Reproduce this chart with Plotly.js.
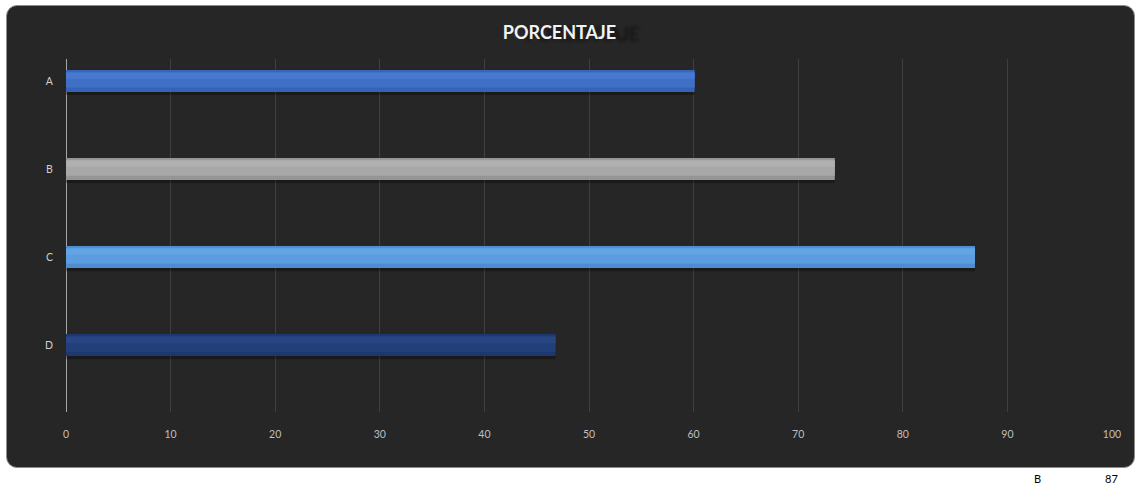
<!DOCTYPE html>
<html>
<head>
<meta charset="utf-8">
<script src="https://cdn.plot.ly/plotly-3.0.1.min.js"></script>
<style>
  html, body { margin: 0; padding: 0; background: #ffffff; }
  #frame { position: absolute; left: 6px; top: 5px; width: 1127px; height: 461px;
           background: #262626; border: 1px solid #8c8c8c; border-radius: 11px; }
  #chart { position: absolute; left: 0; top: 0; width: 1136px; height: 490px; }
</style>
</head>
<body>
<div id="frame"></div>
<div id="chart"></div>
<script>
const categories = ['A', 'B', 'C', 'D'];
const values = [60.1, 73.5, 86.9, 46.8];
const baseColors  = ['#3464b8', '#959595', '#4e8dd0', '#1d386c'];
const mainColors  = ['#4070c6', '#a8a8a8', '#5b9de0', '#223f7a'];
const lightColors = ['#4878d0', '#b0b0b0', '#63a4e5', '#284684'];
const xTicks = [0, 10, 20, 30, 40, 50, 60, 70, 80, 90, 100];
const titleText = 'PORCENTAJE';
const stray = ['B', '87'];

const font = 'Lato, "Open Sans", sans-serif';

function barLayer(colors, offset, width) {
  return {
    type: 'bar', orientation: 'h',
    x: values, y: categories,
    offset: offset, width: width,
    marker: { color: colors, line: { width: 0 } },
    hoverinfo: 'skip'
  };
}

const data = [
  barLayer(categories.map(() => 'rgba(0,0,0,0.3)'), -0.1, 0.26),
  barLayer(baseColors, -0.125, 0.25),
  barLayer(mainColors, -0.105, 0.18),
  barLayer(lightColors, -0.095, 0.07)
];

const layout = {
  width: 1136,
  height: 490,
  margin: { l: 66, r: 24, t: 59, b: 78, pad: 0 },
  paper_bgcolor: 'rgba(0,0,0,0)',
  plot_bgcolor: 'rgba(0,0,0,0)',
  showlegend: false,
  barmode: 'overlay',
  title: {
    text: titleText,
    font: { family: font, size: 18, color: '#f2f2f2', weight: 'bold',
            shadow: '23px 2px 3px #161616' },
    x: 559.5 / 1136, xanchor: 'center', xref: 'container',
    y: 1 - 33 / 490, yanchor: 'middle', yref: 'container'
  },
  xaxis: {
    range: [0, 100],
    tickvals: xTicks,
    ticktext: xTicks.map(String),
    showgrid: true,
    gridcolor: '#3f3f3f',
    gridwidth: 1,
    zeroline: true,
    zerolinecolor: '#a6a6a6',
    zerolinewidth: 1,
    showline: false,
    ticks: 'outside', ticklen: 12, tickcolor: 'rgba(0,0,0,0)',
    tickfont: { family: font, size: 10.5, color: '#bfbfbf' },
    fixedrange: true
  },
  yaxis: {
    type: 'category',
    categoryorder: 'array',
    categoryarray: categories,
    range: [3.76, -0.25],
    showgrid: false,
    zeroline: false,
    showline: false,
    ticks: 'outside', ticklen: 10, tickcolor: 'rgba(0,0,0,0)',
    tickfont: { family: font, size: 10.5, color: '#d0d0d0' },
    fixedrange: true
  },
  annotations: [
    {
      text: stray[0], xref: 'paper', yref: 'paper',
      x: (1037 - 66) / 1046, y: (412 - 479) / 353, xanchor: 'center', yanchor: 'middle',
      showarrow: false, font: { family: font, size: 11, color: '#000000' }
    },
    {
      text: stray[1], xref: 'paper', yref: 'paper',
      x: (1111 - 66) / 1046, y: (412 - 479) / 353, xanchor: 'center', yanchor: 'middle',
      showarrow: false, font: { family: font, size: 11, color: '#000000' }
    }
  ]
};

Plotly.newPlot('chart', data, layout, { displayModeBar: false, staticPlot: true });
</script>
</body>
</html>
